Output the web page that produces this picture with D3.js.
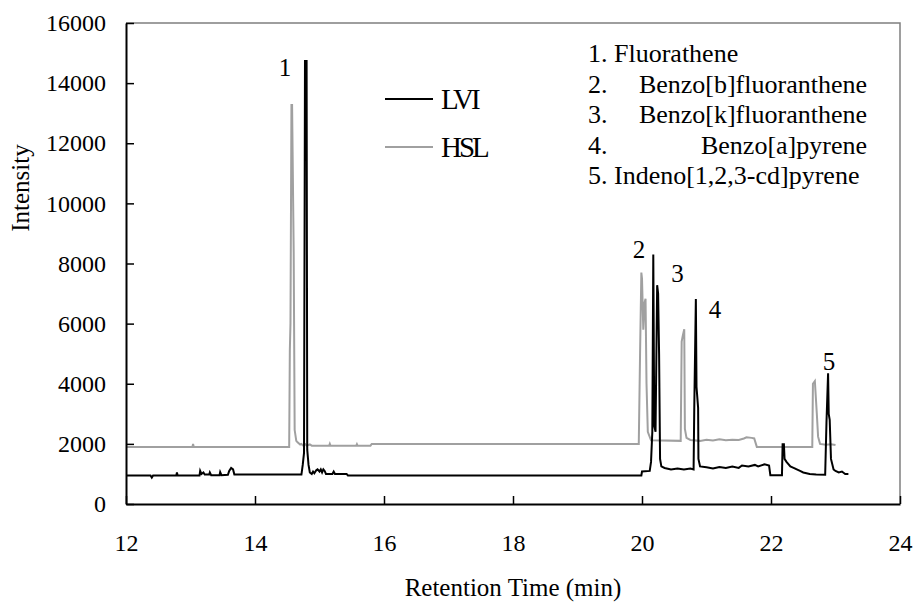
<!DOCTYPE html>
<html>
<head>
<meta charset="utf-8">
<script src="https://d3js.org/d3.v7.min.js"></script>
<style>
  body { margin: 0; background: #fff; }
  text { font-family: "Liberation Serif", "Times New Roman", serif; fill: #000; }
</style>
</head>
<body>
<div id="chart"></div>
<script>
// chromatogram traces: [retention time (min), intensity]
var lviTrace = [
  [12.00, 950], [12.38, 950], [12.40, 880], [12.42, 950], [12.78, 950], [12.79, 1050], [12.80, 950],
  [13.14, 950], [13.15, 1100], [13.17, 1000], [13.20, 1050], [13.22, 980], [13.29, 980], [13.30, 1050],
  [13.32, 960], [13.45, 960], [13.46, 1060], [13.48, 960], [13.58, 970], [13.60, 1100], [13.63, 1200],
  [13.66, 1150], [13.68, 980], [14.72, 980], [14.74, 1300], [14.76, 1700], [14.775, 14735], [14.80, 14735],
  [14.81, 1800], [14.83, 1300], [14.85, 1050], [14.88, 1000], [14.90, 1080], [14.92, 1020], [14.95, 1120],
  [14.97, 1150], [15.00, 1080], [15.02, 1150], [15.04, 1050], [15.06, 1150], [15.08, 1100], [15.10, 1000],
  [15.20, 1000], [15.22, 1080], [15.24, 1000], [15.42, 1000], [15.44, 950], [19.99, 950], [20.00, 1080],
  [20.12, 1100], [20.14, 1400], [20.16, 2400], [20.175, 8300], [20.19, 2600], [20.21, 2400], [20.235, 7280],
  [20.25, 7000], [20.265, 5000], [20.28, 1500], [20.30, 1250], [20.35, 1200], [20.45, 1150], [20.55, 1180],
  [20.65, 1150], [20.75, 1180], [20.80, 1150], [20.81, 3130], [20.835, 6820], [20.845, 3900], [20.87, 3200],
  [20.875, 1500], [20.90, 1250], [21.00, 1220], [21.10, 1180], [21.20, 1230], [21.30, 1200], [21.40, 1250],
  [21.50, 1200], [21.55, 1280], [21.65, 1250], [21.75, 1300], [21.80, 1250], [21.90, 1320], [21.97, 1280],
  [21.99, 960], [22.17, 960], [22.18, 1990], [22.20, 1990], [22.21, 1500], [22.24, 1400], [22.30, 1250],
  [22.35, 1200], [22.45, 1100], [22.50, 1050], [22.60, 1000], [22.70, 980], [22.84, 970], [22.86, 2700],
  [22.885, 4350], [22.895, 3000], [22.91, 2800], [22.93, 1500], [22.97, 1150], [23.00, 1100], [23.05, 1050],
  [23.10, 1080], [23.15, 1000], [23.20, 1000]
];

var hslTrace = [
  [12.00, 1900], [13.03, 1900], [13.04, 2000], [13.05, 1900], [14.53, 1900], [14.54, 5100], [14.55, 6000],
  [14.565, 13270], [14.575, 13270], [14.60, 8350], [14.615, 2460], [14.64, 2100], [14.66, 2050], [14.70, 1980],
  [14.72, 2000], [14.74, 1950], [14.78, 1990], [14.80, 1940], [14.85, 1980], [14.88, 1940], [15.15, 1940],
  [15.16, 2000], [15.17, 1940], [15.57, 1940], [15.58, 1990], [15.59, 1940], [15.79, 1940], [15.81, 2000],
  [19.95, 2000], [19.97, 5000], [19.99, 7700], [20.00, 7500], [20.02, 5800], [20.04, 6700], [20.055, 6830],
  [20.07, 4000], [20.09, 2400], [20.14, 2120], [20.60, 2100], [20.615, 5400], [20.63, 5570], [20.655, 5810],
  [20.665, 2500], [20.69, 2200], [20.75, 2130], [20.90, 2100], [21.00, 2140], [21.10, 2110], [21.20, 2150],
  [21.30, 2120], [21.40, 2140], [21.50, 2130], [21.58, 2180], [21.62, 2220], [21.70, 2200], [21.74, 2180],
  [21.78, 1900], [22.64, 1900], [22.65, 4000], [22.68, 4090], [22.71, 3020], [22.73, 2240], [22.76, 2000],
  [22.85, 1970], [22.93, 1990], [23.00, 1960]
];

var xTicks = [12, 14, 16, 18, 20, 22, 24];
var yTicks = [0, 2000, 4000, 6000, 8000, 10000, 12000, 14000, 16000];

var seriesNames = ["LVI", "HSL"];
var compoundNumbers = ["1.", "2.", "3.", "4.", "5."];
var compoundNames = ["Fluorathene", "Benzo[b]fluoranthene", "Benzo[k]fluoranthene", "Benzo[a]pyrene", "Indeno[1,2,3-cd]pyrene"];

// peak number labels, anchored in data units
var peakLabels = ["1", "2", "3", "4", "5"];
var peakLabelTime = [14.465, 19.953, 20.55, 21.13, 22.90];
var peakLabelIntensity = [14240, 8180, 7390, 6190, 4460];

var width = 915, height = 602;
var margin = {top: 23, right: 15, bottom: 98, left: 126};

var svg = d3.select("#chart").append("svg")
  .attr("width", width)
  .attr("height", height);

svg.append("rect").attr("width", width).attr("height", height).attr("fill", "#fff");

var x = d3.scaleLinear().domain([12, 24]).range([margin.left, width - margin.right]);
var y = d3.scaleLinear().domain([0, 16000]).range([height - margin.bottom, margin.top]);

// top & right frame (grey)
svg.append("path")
  .attr("d", "M" + x(12) + "," + y(16000) + "H" + x(24) + "V" + y(0))
  .attr("fill", "none")
  .attr("stroke", "#7f7f7f")
  .attr("stroke-width", 1.5);

var line = d3.line()
  .x(function(d) { return x(d[0]); })
  .y(function(d) { return y(d[1]); });

svg.append("path")
  .datum(hslTrace)
  .attr("d", line)
  .attr("fill", "none")
  .attr("stroke", "#a0a0a0")
  .attr("stroke-width", 2);

svg.append("path")
  .datum(lviTrace)
  .attr("d", line)
  .attr("fill", "none")
  .attr("stroke", "#000")
  .attr("stroke-width", 2);

// axes
var xAxis = svg.append("g")
  .attr("transform", "translate(0," + y(0) + ")")
  .call(d3.axisBottom(x).tickValues(xTicks).tickFormat(d3.format("d"))
    .tickSizeInner(-8).tickSizeOuter(0).tickPadding(30));

var yAxis = svg.append("g")
  .attr("transform", "translate(" + x(12) + ",0)")
  .call(d3.axisLeft(y).tickValues(yTicks).tickFormat(d3.format("d"))
    .tickSizeInner(-8).tickSizeOuter(0).tickPadding(20));

[xAxis, yAxis].forEach(function(a) {
  a.attr("font-family", null);
  a.select(".domain").attr("stroke", "#000").attr("stroke-width", 2);
  a.selectAll(".tick line").attr("stroke", "#000").attr("stroke-width", 1.5);
  a.selectAll(".tick text")
    .attr("font-size", 24)
    .attr("fill", "#000");
});

// axis titles
svg.append("text")
  .attr("x", (x(12) + x(24)) / 2)
  .attr("y", 596)
  .attr("text-anchor", "middle")
  .attr("font-size", 25)
  .text("Retention Time (min)");

svg.append("text")
  .attr("transform", "translate(29,188) rotate(-90)")
  .attr("text-anchor", "middle")
  .attr("font-size", 25)
  .text("Intensity");

// series legend
var legend = svg.append("g");
seriesNames.forEach(function(name, i) {
  var ly = 99 + i * 48;
  legend.append("line")
    .attr("x1", 385).attr("x2", 433)
    .attr("y1", ly).attr("y2", ly)
    .attr("stroke", i === 0 ? "#000" : "#a0a0a0")
    .attr("stroke-width", 2);
  legend.append("text")
    .attr("x", 441)
    .attr("y", ly + 10)
    .attr("font-size", 29)
    .attr("letter-spacing", -3)
    .text(name);
});

// compound list
compoundNumbers.forEach(function(num, i) {
  var ty = 62 + i * 30.5;
  if (i === 0 || i === 4) {
    svg.append("text")
      .attr("x", 588).attr("y", ty)
      .attr("font-size", 26)
      .text(num + " " + compoundNames[i]);
  } else {
    svg.append("text")
      .attr("x", 588).attr("y", ty)
      .attr("font-size", 26)
      .text(num);
    svg.append("text")
      .attr("x", 867).attr("y", ty)
      .attr("text-anchor", "end")
      .attr("font-size", 26)
      .text(compoundNames[i]);
  }
});

// peak numbers
peakLabels.forEach(function(lbl, i) {
  svg.append("text")
    .attr("x", x(peakLabelTime[i]))
    .attr("y", y(peakLabelIntensity[i]))
    .attr("text-anchor", "middle")
    .attr("font-size", 25)
    .text(lbl);
});
</script>
</body>
</html>
